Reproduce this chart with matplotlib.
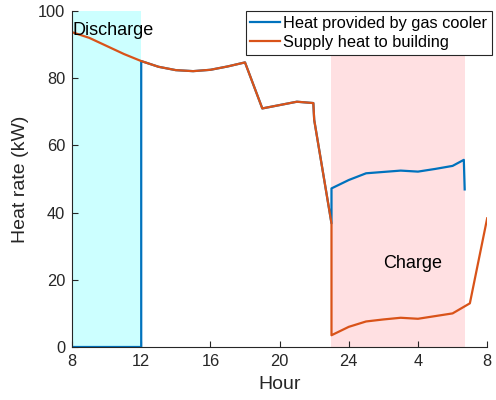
import numpy as np
import matplotlib
matplotlib.use('Agg')
import matplotlib.pyplot as plt

plt.rcParams['font.family'] = ['Liberation Sans', 'DejaVu Sans']

# hours from 8:00 to 8:00 next day (values past 24 wrap round)
supply_hours = [8, 9, 10, 11, 12, 13, 14, 15, 16, 17, 18, 19, 20, 21, 21.95,
                22.0, 23, 23, 24, 25, 26, 27, 28, 29, 30, 31, 32]
supply_heat = [93.7, 92.0, 89.6, 87.2, 85.1, 83.4, 82.4, 82.1, 82.5, 83.5,
               84.7, 71.0, 72.0, 73.0, 72.6, 67.6, 36.8, 3.5, 6.0, 7.6,
               8.2, 8.7, 8.4, 9.2, 10.0, 13.0, 38.3]

cooler_hours = [8, 12, 12, 13, 14, 15, 16, 17, 18, 19, 20, 21, 21.95, 22.0,
                23, 23, 24, 25, 26, 27, 28, 29, 30, 30.65, 30.7]
cooler_heat = [0, 0, 85.1, 83.4, 82.4, 82.1, 82.5, 83.5, 84.7, 71.0, 72.0,
               73.0, 72.6, 67.6, 36.8, 47.2, 49.7, 51.7, 52.1, 52.5, 52.2,
               53.0, 53.9, 55.7, 46.9]

discharge_span = (8, 12)
charge_span = (23, 30.72)

xticks = [8, 12, 16, 20, 24, 28, 32]
xticklabels = ['8', '12', '16', '20', '24', '4', '8']
yticks = [0, 20, 40, 60, 80, 100]

fig = plt.figure(figsize=(4.96, 4.0), dpi=100)
ax = fig.add_axes([0.1452, 0.1325, 0.837, 0.84])

ax.axvspan(*discharge_span, ymin=0, ymax=1, facecolor='#ccffff',
           edgecolor='none', zorder=0)
ax.axvspan(*charge_span, ymin=0, ymax=1, facecolor='#ffe0e2',
           edgecolor='none', zorder=0)

ax.plot(cooler_hours, cooler_heat, color='#0072BD', lw=1.6,
        label='Heat provided by gas cooler', zorder=2)
ax.plot(supply_hours, supply_heat, color='#D95319', lw=1.6,
        label='Supply heat to building', zorder=3)

ax.text(8.05, 94.3, 'Discharge', fontsize=13, va='center', ha='left',
        zorder=4)
ax.text(27.7, 25, 'Charge', fontsize=13, va='center', ha='center',
        zorder=4)

ax.set_xlim(8, 32)
ax.set_ylim(0, 100)
ax.set_xticks(xticks)
ax.set_xticklabels(xticklabels)
ax.set_yticks(yticks)
ax.tick_params(direction='in', length=4, width=0.8, colors='#262626',
               labelsize=11.8, labelcolor='#262626', pad=5)
for side in ['top', 'right']:
    ax.spines[side].set_visible(False)
for side in ['left', 'bottom']:
    ax.spines[side].set_color('#262626')
    ax.spines[side].set_linewidth(0.8)
    ax.spines[side].set_zorder(5)

ax.set_xlabel('Hour', fontsize=14, color='#262626', labelpad=5)
ax.set_ylabel('Heat rate (kW)', fontsize=14, color='#262626', labelpad=6)

leg = ax.legend(loc='upper right', bbox_to_anchor=(1.012, 1.0),
                borderaxespad=0, fancybox=False, framealpha=1,
                edgecolor='#262626', fontsize=11.8, handlelength=1.8,
                handletextpad=0.2, borderpad=0.3, labelspacing=0.25)
leg.get_frame().set_linewidth(0.8)
leg.set_zorder(6)

fig.savefig('out.png', dpi=100)
